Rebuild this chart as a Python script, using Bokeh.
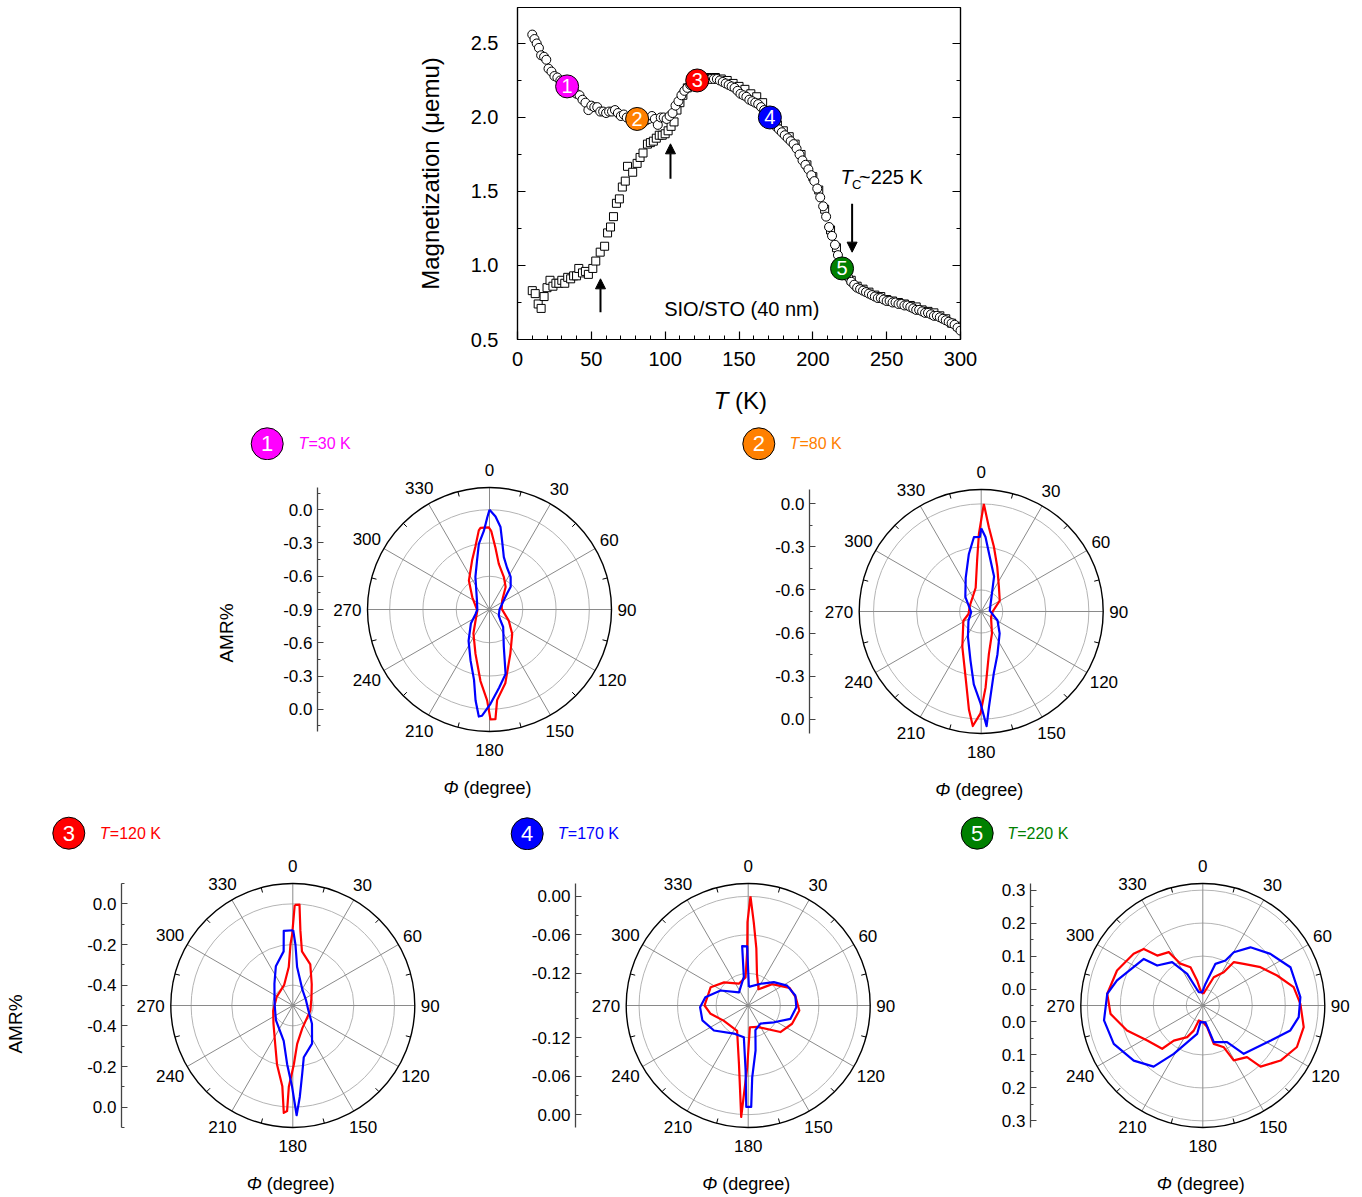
import math
from bokeh.plotting import figure
from bokeh.models import (Range1d, LinearAxis, FixedTicker, SingleIntervalTicker,
                          CustomJSTickFormatter, NumeralTickFormatter, Arrow, NormalHead)
from bokeh.layouts import column, row
from bokeh.embed import file_html
from bokeh.resources import INLINE
from bokeh.core.properties import value

FONT = "Liberation Sans"

# ---------------- M(T) data ----------------
fc_points = [(10, 2.56), (11.5, 2.53), (13, 2.50), (14.5, 2.47), (16, 2.42), (18, 2.41), (19.5, 2.39),
             (21, 2.33), (23, 2.31), (25, 2.28), (27, 2.27), (29, 2.25), (31, 2.23), (36, 2.19),
             (38, 2.17), (40, 2.16), (42, 2.15), (44, 2.12), (46, 2.10), (48, 2.05), (50, 2.08),
             (52, 2.07), (54, 2.07), (56, 2.04), (58, 2.04), (60, 2.03), (62, 2.04), (64, 2.04),
             (66, 2.05), (68, 2.03), (70, 2.01), (72, 2.02), (74, 2.00), (77, 2.00), (85, 1.97),
             (87, 1.98), (89, 1.99), (91, 2.01), (93, 1.99), (95, 1.95), (97, 2.00), (99, 2.00),
             (101, 1.99), (103, 2.01), (105, 2.03), (107, 2.08), (109, 2.11), (111, 2.15), (113, 2.18),
             (115, 2.20), (117, 2.22), (125, 2.25), (127, 2.26), (129, 2.26), (131, 2.26), (133, 2.26),
             (135, 2.26), (137, 2.25), (139, 2.24), (141, 2.23), (143, 2.22), (145, 2.21), (147, 2.20),
             (149, 2.18), (151, 2.16), (153, 2.15), (155, 2.14), (157, 2.12), (159, 2.11), (161, 2.10),
             (163, 2.09), (165, 2.07), (167, 2.05), (175, 1.94), (177, 1.92), (179, 1.90), (181, 1.88),
             (183, 1.86), (185, 1.84), (187, 1.82), (189, 1.79), (191, 1.75), (193, 1.71), (195, 1.68),
             (197, 1.65), (199, 1.61), (201, 1.57), (203, 1.52), (205, 1.46), (207, 1.40), (209, 1.33),
             (211, 1.26), (213, 1.20), (215, 1.14), (217, 1.07), (224, 0.92), (226, 0.89), (228, 0.87),
             (230, 0.85), (232, 0.84), (234, 0.83), (236, 0.82), (238, 0.81), (240, 0.80), (242, 0.79),
             (244, 0.78), (246, 0.78), (248, 0.77), (250, 0.76), (252, 0.76), (254, 0.75), (256, 0.75),
             (258, 0.74), (260, 0.74), (262, 0.73), (264, 0.73), (266, 0.72), (268, 0.71), (270, 0.70),
             (272, 0.70), (274, 0.69), (276, 0.68), (278, 0.68), (280, 0.67), (282, 0.66), (284, 0.66),
             (286, 0.65), (288, 0.64), (290, 0.63), (292, 0.62), (294, 0.61), (296, 0.60), (298, 0.58),
             (300, 0.56)]

zfc_points = [(10, 0.83), (12, 0.81), (14, 0.74), (16, 0.71), (18, 0.79), (20, 0.85), (22, 0.90),
              (24, 0.86), (26, 0.88), (28, 0.88), (30, 0.90), (32, 0.88), (34, 0.92), (36, 0.91),
              (38, 0.93), (40, 0.93), (41.5, 0.98), (44, 0.95), (46, 0.96), (48, 0.94), (51, 0.98),
              (53, 1.03), (56, 1.09), (59, 1.13), (61, 1.22), (63, 1.26), (65, 1.33), (67, 1.42),
              (69, 1.45), (71, 1.53), (73, 1.57), (74.5, 1.67), (78, 1.63), (81, 1.69), (83, 1.73),
              (85, 1.76), (88, 1.82), (90, 1.83), (92, 1.84), (94, 1.86), (96, 1.88), (98, 1.88),
              (100, 1.89), (102, 1.91), (104, 1.94), (106, 1.97), (108, 2.05), (110, 2.10), (112, 2.15),
              (115, 2.20), (118, 2.23), (130, 2.27), (134, 2.27), (138, 2.26), (142, 2.25), (146, 2.23),
              (150, 2.21), (154, 2.19), (158, 2.16), (162, 2.14), (166, 2.10), (172, 2.00), (176, 1.95),
              (180, 1.91), (184, 1.87), (188, 1.82), (192, 1.75), (196, 1.68), (200, 1.60), (204, 1.51),
              (208, 1.38), (212, 1.24), (216, 1.12), (222, 0.96), (226, 0.90), (230, 0.86), (234, 0.84),
              (238, 0.82), (242, 0.80), (246, 0.79), (250, 0.77), (254, 0.76), (258, 0.75), (262, 0.74),
              (266, 0.73), (270, 0.72), (274, 0.70), (278, 0.69), (282, 0.68), (286, 0.66), (290, 0.64),
              (294, 0.61), (298, 0.59)]

badge_ids = ["1", "2", "3", "4", "5"]
badge_T = [33.6, 81.0, 121.7, 170.9, 219.8]
badge_M = [2.21, 1.99, 2.25, 2.00, 0.98]
badge_colors = ["#FF00FF", "#FF8000", "#FF0000", "#0000FF", "#008000"]
badge_temps = ["=30 K", "=80 K", "=120 K", "=170 K", "=220 K"]

arrow_T = [56.2, 103.6, 226.6]
arrow_M_from = [0.684, 1.586, 1.417]
arrow_M_to = [0.91, 1.822, 1.09]

# ---------------- AMR polar data: (phi in degree, AMR%) ----------------
p1_red = [(1.2, -0.19), (5.5, -0.34), (11.5, -0.48), (23.9, -0.58), (35.6, -0.65), (54.6, -0.76),
          (87, -0.79), (120, -0.70), (137, -0.60), (154.7, -0.46), (167.9, -0.22), (175.2, -0.08),
          (176.9, 0.09), (179.5, 0.09), (181.5, -0.08), (187.2, -0.25), (197.5, -0.48), (213.9, -0.64),
          (231.8, -0.74), (265, -0.79), (305.4, -0.71), (324.5, -0.58), (340.5, -0.43), (347.3, -0.32),
          (352.3, -0.18), (353.7, -0.16), (359.5, -0.16)]
p1_blue = [(0, 0.00), (3.7, -0.06), (7.6, -0.15), (10.4, -0.27), (15.3, -0.41), (22.6, -0.49),
           (33, -0.55), (43, -0.62), (48, -0.69), (58, -0.75), (90, -0.81), (123, -0.80), (135, -0.76),
           (142, -0.70), (159, -0.54), (166, -0.30), (173, -0.19), (179.4, -0.05), (184, 0.06),
           (185.7, 0.07), (188.7, -0.07), (192.4, -0.25), (200.4, -0.41), (213.7, -0.56), (233, -0.69),
           (253, -0.77), (270, -0.79), (306, -0.76), (336.6, -0.58), (345.9, -0.44), (350.8, -0.30),
           (355.9, -0.19), (358.6, -0.07)]

p2_red = [(1.4, 0.00), (5.2, -0.16), (11.1, -0.29), (19.8, -0.42), (36, -0.54), (59.5, -0.60),
          (90, -0.67), (121, -0.67), (153.8, -0.58), (169.7, -0.45), (176.7, -0.22), (180.4, -0.04),
          (184.2, 0.05), (187.1, -0.06), (193.4, -0.28), (208, -0.47), (242.6, -0.61), (259, -0.66),
          (300, -0.66), (335.6, -0.62), (346.9, -0.58), (355.5, -0.39), (358.3, -0.21)]
p2_blue = [(0, -0.17), (3.3, -0.23), (7.6, -0.34), (20.2, -0.49), (31.9, -0.61), (84, -0.69),
           (119, -0.62), (140, -0.55), (159.3, -0.43), (168.5, -0.31), (175.4, -0.08), (177.3, 0.05),
           (180.4, -0.11), (185.8, -0.24), (192.3, -0.40), (207.5, -0.55), (233.9, -0.64), (266, -0.68),
           (312.5, -0.60), (335.5, -0.49), (347.9, -0.34), (354.4, -0.23), (359, -0.23)]

p3_red = [(1.1, -0.005), (3.8, -0.003), (5.8, -0.13), (9.6, -0.23), (23, -0.28), (41.7, -0.36),
          (66.7, -0.40), (106, -0.41), (156.7, -0.38), (173.5, -0.31), (179, -0.21), (182.8, -0.10),
          (183.1, 0.02), (184.8, 0.03), (187.4, -0.10), (195, -0.20), (204.3, -0.29), (227, -0.37),
          (255, -0.40), (298, -0.41), (337.4, -0.39), (354, -0.31), (357.8, -0.20), (359.5, -0.15)]
p3_blue = [(0.3, -0.13), (2.5, -0.20), (6.4, -0.31), (31.9, -0.41), (68, -0.43), (107, -0.42),
           (133.5, -0.37), (153.2, -0.29), (168, -0.24), (172.2, -0.16), (175.6, -0.05), (178, 0.04),
           (180.5, -0.10), (185.5, -0.21), (194.4, -0.32), (229, -0.39), (275, -0.41), (319.8, -0.36),
           (336.6, -0.29), (350.4, -0.23), (353.1, -0.13)]

p4_red = [(1.2, 0.00), (3.8, -0.04), (8.1, -0.08), (15.9, -0.12), (32.6, -0.14), (48.2, -0.12),
          (66.9, -0.10), (80, -0.095), (95.6, -0.09), (112.6, -0.096), (129.5, -0.105), (157.4, -0.134),
          (175.6, -0.136), (180.9, -0.074), (183.6, 0.004), (189, -0.078), (203.7, -0.127),
          (238.4, -0.125), (257.5, -0.11), (270, -0.102), (296, -0.105), (313.8, -0.118),
          (336.7, -0.133), (354.6, -0.126), (359, -0.084), (359.5, -0.04)]
p4_blue = [(2, -0.141), (29.6, -0.131), (47.7, -0.116), (62.9, -0.102), (78, -0.095), (92, -0.095),
           (107.5, -0.101), (123, -0.122), (146, -0.136), (163.7, -0.13), (170.7, -0.099),
           (176.8, -0.058), (178.3, -0.012), (181.1, -0.012), (182.3, -0.069), (187.8, -0.12),
           (206.8, -0.121), (233.9, -0.104), (252, -0.095), (268, -0.095), (281, -0.102),
           (298.5, -0.121), (325, -0.145), (351.3, -0.125), (354.2, -0.077), (359, -0.078)]

p5_red = [(2, -0.015), (21.2, 0.042), (32.2, 0.069), (35.6, 0.112), (44.5, 0.127), (56.4, 0.16),
          (68, 0.193), (78.6, 0.231), (89, 0.246), (102.1, 0.263), (113.8, 0.262), (125.3, 0.239),
          (136.6, 0.205), (139.4, 0.156), (150.6, 0.141), (153.3, 0.092), (164, 0.071), (168.7, 0.017),
          (178.9, 0.001), (195, -0.003), (199.8, 0.031), (206.3, 0.057), (219.6, 0.088), (223.2, 0.13),
          (237.8, 0.149), (251.7, 0.192), (264.8, 0.231), (277, 0.242), (292.2, 0.231), (306.8, 0.212),
          (313.8, 0.198), (317.6, 0.155), (327.5, 0.142), (331.8, 0.094), (342.2, 0.072),
          (347.2, 0.028), (351, -0.003)]
p5_blue = [(7, 0.016), (16.9, 0.082), (26.7, 0.103), (30.2, 0.137), (39.3, 0.178), (52.6, 0.208),
           (66.4, 0.24), (85.1, 0.247), (96.9, 0.243), (105.9, 0.226), (117.3, 0.182), (139.7, 0.142),
           (146.4, 0.083), (163.3, 0.066), (171, 0.002), (188, 0.001), (191.3, 0.038), (211, 0.121),
           (218.8, 0.188), (231.4, 0.218), (246.7, 0.244), (261.4, 0.253), (277, 0.242), (286.3, 0.221),
           (308.3, 0.178), (311.2, 0.134), (324.7, 0.111), (333.7, 0.057), (343.3, -0.008), (357, -0.01)]

angle_ticks = [0, 30, 60, 90, 120, 150, 180, 210, 240, 270, 300, 330]

RED = "#FF0000"
BLUE = "#0000FF"

# ================= top panel =================
TOP_H = 385
SX = 443.0 / 300.0          # px per K
SY = 332.0 / 2.243          # px per memu unit

top = figure(width=1362, height=TOP_H, x_range=Range1d(0, 300), y_range=Range1d(0.5, 2.743),
             output_backend="svg", toolbar_location=None,
             min_border_left=517, min_border_right=402, min_border_top=7, min_border_bottom=46)
top.grid.visible = False
top.outline_line_color = "black"
top.outline_line_width = 1.2


def style_axis(ax, size="20px"):
    ax.major_tick_in = 8
    ax.major_tick_out = 0
    ax.minor_tick_in = 4
    ax.minor_tick_out = 0
    ax.axis_line_color = "black"
    ax.axis_line_width = 1.2
    ax.major_tick_line_color = "black"
    ax.minor_tick_line_color = "black"
    ax.major_tick_line_width = 1.2
    ax.minor_tick_line_width = 1
    ax.major_label_text_font = FONT
    ax.major_label_text_font_size = size
    ax.major_label_text_color = "black"


xa = top.xaxis[0]
ya = top.yaxis[0]
style_axis(xa)
style_axis(ya)
xa.ticker = SingleIntervalTicker(interval=50, num_minor_ticks=5)
xa.major_label_standoff = 12
ya.ticker = SingleIntervalTicker(interval=0.5, num_minor_ticks=2)
ya.formatter = NumeralTickFormatter(format="0.0")
ya.major_label_standoff = 19
ya.axis_label = "Magnetization (μemu)"
ya.axis_label_text_font = FONT
ya.axis_label_text_font_size = "24px"
ya.axis_label_text_font_style = "normal"
ya.axis_label_text_color = "black"
ya.axis_label_standoff = 24

ra = LinearAxis(ticker=SingleIntervalTicker(interval=0.5, num_minor_ticks=2),
                formatter=CustomJSTickFormatter(code="return '';"))
style_axis(ra)
top.add_layout(ra, "right")

top.scatter([t for t, _ in zfc_points], [m for _, m in zfc_points], marker="square", size=8,
            fill_color="white", line_color="black", line_width=1)
top.scatter([t for t, _ in fc_points], [m for _, m in fc_points], marker="circle", size=9,
            fill_color="white", line_color="black", line_width=1)

for t, m0, m1 in zip(arrow_T, arrow_M_from, arrow_M_to):
    top.add_layout(Arrow(end=NormalHead(size=10, fill_color="black", line_color="black", line_width=1),
                         x_start=t, y_start=m0, x_end=t, y_end=m1,
                         line_color="black", line_width=2))

top.scatter(badge_T, badge_M, marker="circle", size=23, fill_color=badge_colors,
            line_color="black", line_width=1)
top.text(badge_T, badge_M, text=badge_ids, text_font=value(FONT), text_font_size="20px",
         text_color="white", text_align="center", text_baseline="middle")

top.text([151.9], [0.707], text=["SIO/STO (40 nm)"], text_font=value(FONT), text_font_size="20px",
         text_color="black", text_align="center", text_baseline="middle")

tc_T, tc_M = 218.7, 1.597
top.text([tc_T], [tc_M], text=["T"], text_font=value(FONT), text_font_size="20px",
         text_font_style="italic", text_color="black", text_align="left", text_baseline="middle")
top.text([tc_T + 11.5 / SX], [tc_M - 7 / SY], text=["C"], text_font=value(FONT), text_font_size="13px",
         text_color="black", text_align="left", text_baseline="middle")
top.text([tc_T + 18.5 / SX], [tc_M], text=["~225 K"], text_font=value(FONT), text_font_size="20px",
         text_color="black", text_align="left", text_baseline="middle")


# ================= badge strips =================
def strip(height, entries, extra=None):
    s = figure(width=1362, height=height, x_range=Range1d(0, 1362), y_range=Range1d(height, 0),
               output_backend="svg", toolbar_location=None, x_axis_location=None,
               y_axis_location=None, min_border=0, min_border_left=0, min_border_right=0,
               min_border_top=0, min_border_bottom=0)
    s.outline_line_color = None
    s.grid.visible = False
    for bx, by, tx, i in entries:
        s.scatter([bx], [by], marker="circle", size=32, fill_color=badge_colors[i],
                  line_color="black", line_width=1)
        s.text([bx], [by], text=[badge_ids[i]], text_font=value(FONT), text_font_size="22px",
               text_color="white", text_align="center", text_baseline="middle")
        s.text([tx], [by], text=["T"], text_font=value(FONT), text_font_size="16px",
               text_font_style="italic", text_color=badge_colors[i], text_align="left",
               text_baseline="middle")
        s.text([tx + 10], [by], text=[badge_temps[i]], text_font=value(FONT), text_font_size="16px",
               text_color=badge_colors[i], text_align="left", text_baseline="middle")
    if extra:
        for (x, y, txt, style) in extra:
            s.text([x], [y], text=[txt], text_font=value(FONT), text_font_size="24px",
                   text_font_style=style, text_color="black", text_align="left", text_baseline="middle")
    return s


# x-axis title of the top panel sits in the first strip (page y 385..460)
stripB = strip(75, [(266.7, 58.3, 298.0, 0), (758.3, 58.3, 789.0, 1)],
               extra=[(713.3, 15.0, "T", "italic"), (734.5, 15.0, "(K)", "normal")])
stripD = strip(45, [(68.3, 27.7, 99.3, 2), (526.7, 28.3, 557.3, 3), (976.7, 27.7, 1006.7, 4)])

# ================= polar panels =================
R_PX = 122.0


def polar_panel(width, border_left, height, page_left, page_top, cx, cy, vmin, vmax,
                majors, minors, dec, grid_vals, curves, axis_label=None, label_standoff=40):
    R = vmax - vmin
    k = R_PX / R
    frame_left = page_left + border_left
    frame_right = page_left + width
    xr = Range1d((frame_left - cx) / k, (frame_right - cx) / k)
    yr = Range1d(-(page_top + height - cy) / k, (cy - page_top) / k)
    p = figure(width=width, height=height, x_range=xr, y_range=yr, output_backend="svg",
               toolbar_location=None, x_axis_location=None, y_axis_location="left",
               min_border_left=border_left, min_border_right=0, min_border_top=0, min_border_bottom=0)
    p.grid.visible = False
    p.outline_line_color = None

    ax = p.yaxis[0]
    ticks = sorted(set(round(s * (v - vmin), 6) for v in majors for s in (1, -1)))
    mticks = sorted(set(round(s * (v - vmin), 6) for v in minors for s in (1, -1)))
    ax.ticker = FixedTicker(ticks=ticks, minor_ticks=mticks)
    ax.formatter = CustomJSTickFormatter(args=dict(vmin=vmin, dec=dec), code="""
        let v = Math.abs(tick) + vmin;
        if (Math.abs(v) < 1e-9) { v = 0; }
        return v.toFixed(dec);
    """)
    ax.bounds = (-R, R)
    ax.major_tick_in = 6
    ax.major_tick_out = 0
    ax.minor_tick_in = 3
    ax.minor_tick_out = 0
    ax.axis_line_color = "#444444"
    ax.major_tick_line_color = "#444444"
    ax.minor_tick_line_color = "#444444"
    ax.axis_line_width = 1.3
    ax.major_label_text_font = FONT
    ax.major_label_text_font_size = "17px"
    ax.major_label_text_color = "black"
    ax.major_label_standoff = 5
    if axis_label:
        ax.axis_label = axis_label
        ax.axis_label_text_font = FONT
        ax.axis_label_text_font_size = "19px"
        ax.axis_label_text_font_style = "normal"
        ax.axis_label_text_color = "black"
        ax.axis_label_standoff = label_standoff

    # grid circles
    p.circle(x=[0] * len(grid_vals), y=[0] * len(grid_vals), radius=[v - vmin for v in grid_vals],
             fill_color=None, line_color="#b4b4b4", line_width=1)
    # spokes
    sx1 = [R * math.sin(math.radians(a)) for a in angle_ticks]
    sy1 = [R * math.cos(math.radians(a)) for a in angle_ticks]
    p.segment(x0=[0] * len(sx1), y0=[0] * len(sx1), x1=sx1, y1=sy1, line_color="#8a8a8a", line_width=1)
    # outer circle
    p.circle(x=[0], y=[0], radius=[R], fill_color=None, line_color="black", line_width=1.4)
    # small ticks on outer circle
    mid = [a + 15 for a in angle_ticks]
    tl = 5.0 / k
    p.segment(x0=[R * math.sin(math.radians(a)) for a in mid],
              y0=[R * math.cos(math.radians(a)) for a in mid],
              x1=[(R - tl) * math.sin(math.radians(a)) for a in mid],
              y1=[(R - tl) * math.cos(math.radians(a)) for a in mid],
              line_color="black", line_width=1)

    # curves
    for pts, color in curves:
        xs = [(a - vmin) * math.sin(math.radians(ph)) for ph, a in pts]
        ys = [(a - vmin) * math.cos(math.radians(ph)) for ph, a in pts]
        xs.append(xs[0])
        ys.append(ys[0])
        p.line(xs, ys, line_color=color, line_width=2.2, line_join="round")

    # angle labels
    lx, ly, lt = [], [], []
    for a in angle_ticks:
        s_, c_ = math.sin(math.radians(a)), math.cos(math.radians(a))
        hw = 0.556 * 17 * len(str(a)) / 2
        off = math.sqrt((hw * s_) ** 2 + (12 * c_) ** 2) + 6
        rr = R + off / k
        lx.append(rr * s_)
        ly.append(rr * c_)
        lt.append(str(a))
    p.text(lx, ly, text=lt, text_font=value(FONT), text_font_size="17px", text_color="black",
           text_align="center", text_baseline="middle")

    # Phi (degree)
    p.text([-46 / k], [-178 / k], text=["Φ"], text_font=value(FONT), text_font_size="18px",
           text_font_style="italic", text_color="black", text_align="left", text_baseline="middle")
    p.text([-26 / k], [-178 / k], text=["(degree)"], text_font=value(FONT), text_font_size="18px",
           text_color="black", text_align="left", text_baseline="middle")
    return p


ROWC_TOP, ROWC_H = 460, 345
ROWE_TOP, ROWE_H = 850, 347

p1 = polar_panel(759, 317, ROWC_H, 0, ROWC_TOP, 489.0, 609.0, -0.9, 0.2,
                 [-0.9, -0.6, -0.3, 0.0], [-0.75, -0.45, -0.15, 0.15], 1, [-0.6, -0.3, 0.0],
                 [(p1_red, RED), (p1_blue, BLUE)], axis_label="AMR%", label_standoff=43)
p2 = polar_panel(603, 50, ROWC_H, 759, ROWC_TOP, 980.7, 611.0, -0.75, 0.10,
                 [-0.6, -0.3, 0.0], [-0.75, -0.45, -0.15], 1, [-0.6, -0.3, 0.0],
                 [(p2_red, RED), (p2_blue, BLUE)])
p3 = polar_panel(525, 121, ROWE_H, 0, ROWE_TOP, 292.3, 1005.0, -0.5, 0.1,
                 [-0.4, -0.2, 0.0], [-0.5, -0.3, -0.1, 0.1], 1, [-0.4, -0.2, 0.0],
                 [(p3_red, RED), (p3_blue, BLUE)], axis_label="AMR%", label_standoff=58)
p4 = polar_panel(455, 50, ROWE_H, 525, ROWE_TOP, 747.7, 1005.0, -0.17, 0.02,
                 [-0.12, -0.06, 0.0], [-0.15, -0.09, -0.03], 2, [-0.12, -0.06, 0.0],
                 [(p4_red, RED), (p4_blue, BLUE)])
p5 = polar_panel(382, 50, ROWE_H, 980, ROWE_TOP, 1202.3, 1005.0, -0.05, 0.32,
                 [0.0, 0.1, 0.2, 0.3], [-0.05, 0.05, 0.15, 0.25], 1, [0.0, 0.1, 0.2, 0.3],
                 [(p5_red, RED), (p5_blue, BLUE)])

layout = column(row(top), row(stripB), row(p1, p2), row(stripD), row(p3, p4, p5))

open("out.html", "w").write(file_html(layout, INLINE))
